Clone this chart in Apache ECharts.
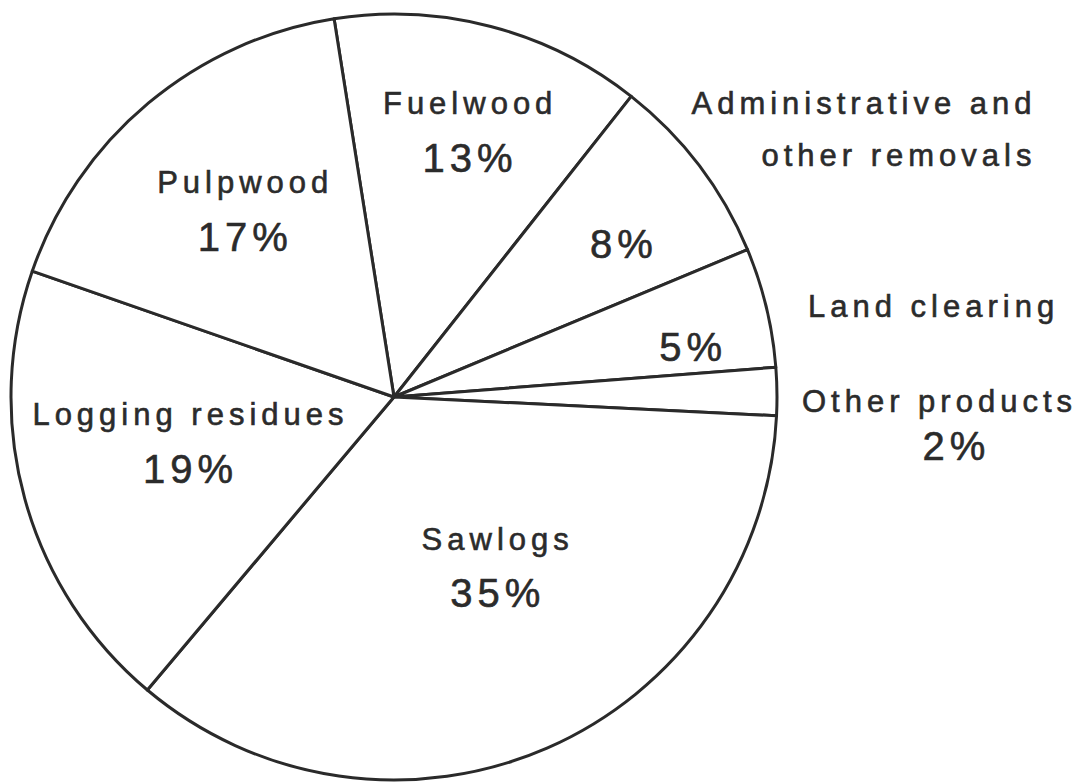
<!DOCTYPE html>
<html>
<head>
<meta charset="utf-8">
<script src="https://cdn.jsdelivr.net/npm/echarts@6/dist/echarts.min.js"></script>
<style>
html, body { margin: 0; padding: 0; background: #ffffff; }
#chart { width: 1082px; height: 782px; }
#chart text { letter-spacing: 5px; }
</style>
</head>
<body>
<div id="chart"></div>
<script>
// ---- data ----
const categories = ['Fuelwood', 'Administrative and\nother removals', 'Land clearing', 'Other products', 'Sawlogs', 'Logging residues', 'Pulpwood'];
const shares = [13, 8, 5, 2, 35, 19, 17];

// ---- layout / styling (not data) ----
const FONT = 'Liberation Sans';
const TEXT = '#2b2b2b';
// which items carry their name inside the slice (series 1)
const nameInside = [true, false, false, false, true, true, true];
// which items carry their name outside the pie (series 2)
const nameOutside = [false, true, true, true, false, false, false];
// label offsets from the default inside anchor
const innerOffsets = [[27, -76], [75, -35], [110, -4], [368, 52], [26, -7], [-16, -5], [-24, -36]];
const outerOffsets = [[0, 0], [360, -150], [383, -45], [386, 7], [0, 0], [0, 0], [0, 0]];

const pieBase = {
  type: 'pie',
  center: [394, 397],
  radius: [0, 383],
  startAngle: 99,
  clockwise: true,
  avoidLabelOverlap: false,
  silent: true,
  animation: false,
  labelLine: { show: false },
  emphasis: { disabled: true },
  data: categories.map((c, i) => ({ name: c, value: shares[i] }))
};

const tb = { textBorderColor: TEXT, textBorderWidth: 0.6 };
const rich = {
  n: Object.assign({ fontFamily: FONT, fontSize: 31, lineHeight: 50, color: TEXT }, tb),
  p: Object.assign({ fontFamily: FONT, fontSize: 40, lineHeight: 58, color: TEXT }, tb),
  r: Object.assign({ fontFamily: FONT, fontSize: 31, lineHeight: 52, color: TEXT, align: 'right' }, tb)
};

const option = {
  backgroundColor: '#ffffff',
  series: [
    Object.assign({}, pieBase, {
      itemStyle: { color: '#ffffff', borderColor: '#2a2a2a', borderWidth: 3 },
      label: {
        show: true,
        position: 'inside',
        color: TEXT,
        fontFamily: FONT,
        formatter: (p) => {
          const pct = '{p|' + shares[p.dataIndex] + '%}';
          return nameInside[p.dataIndex] ? '{n|' + categories[p.dataIndex] + '}\n' + pct : pct;
        },
        rich: rich
      },
      labelLayout: (p) => ({ dx: innerOffsets[p.dataIndex][0], dy: innerOffsets[p.dataIndex][1] })
    }),
    Object.assign({}, pieBase, {
      itemStyle: { color: 'rgba(0,0,0,0)', borderWidth: 0 },
      label: {
        show: true,
        position: 'inside',
        color: TEXT,
        fontFamily: FONT,
        formatter: (p) => {
          if (!nameOutside[p.dataIndex]) return '';
          return categories[p.dataIndex].split('\n').map(t => '{r|' + t + '}').join('\n');
        },
        rich: rich
      },
      labelLayout: (p) => ({ dx: outerOffsets[p.dataIndex][0], dy: outerOffsets[p.dataIndex][1] })
    })
  ]
};

const chart = echarts.init(document.getElementById('chart'), null, { renderer: 'svg' });
chart.setOption(option);
</script>
</body>
</html>
